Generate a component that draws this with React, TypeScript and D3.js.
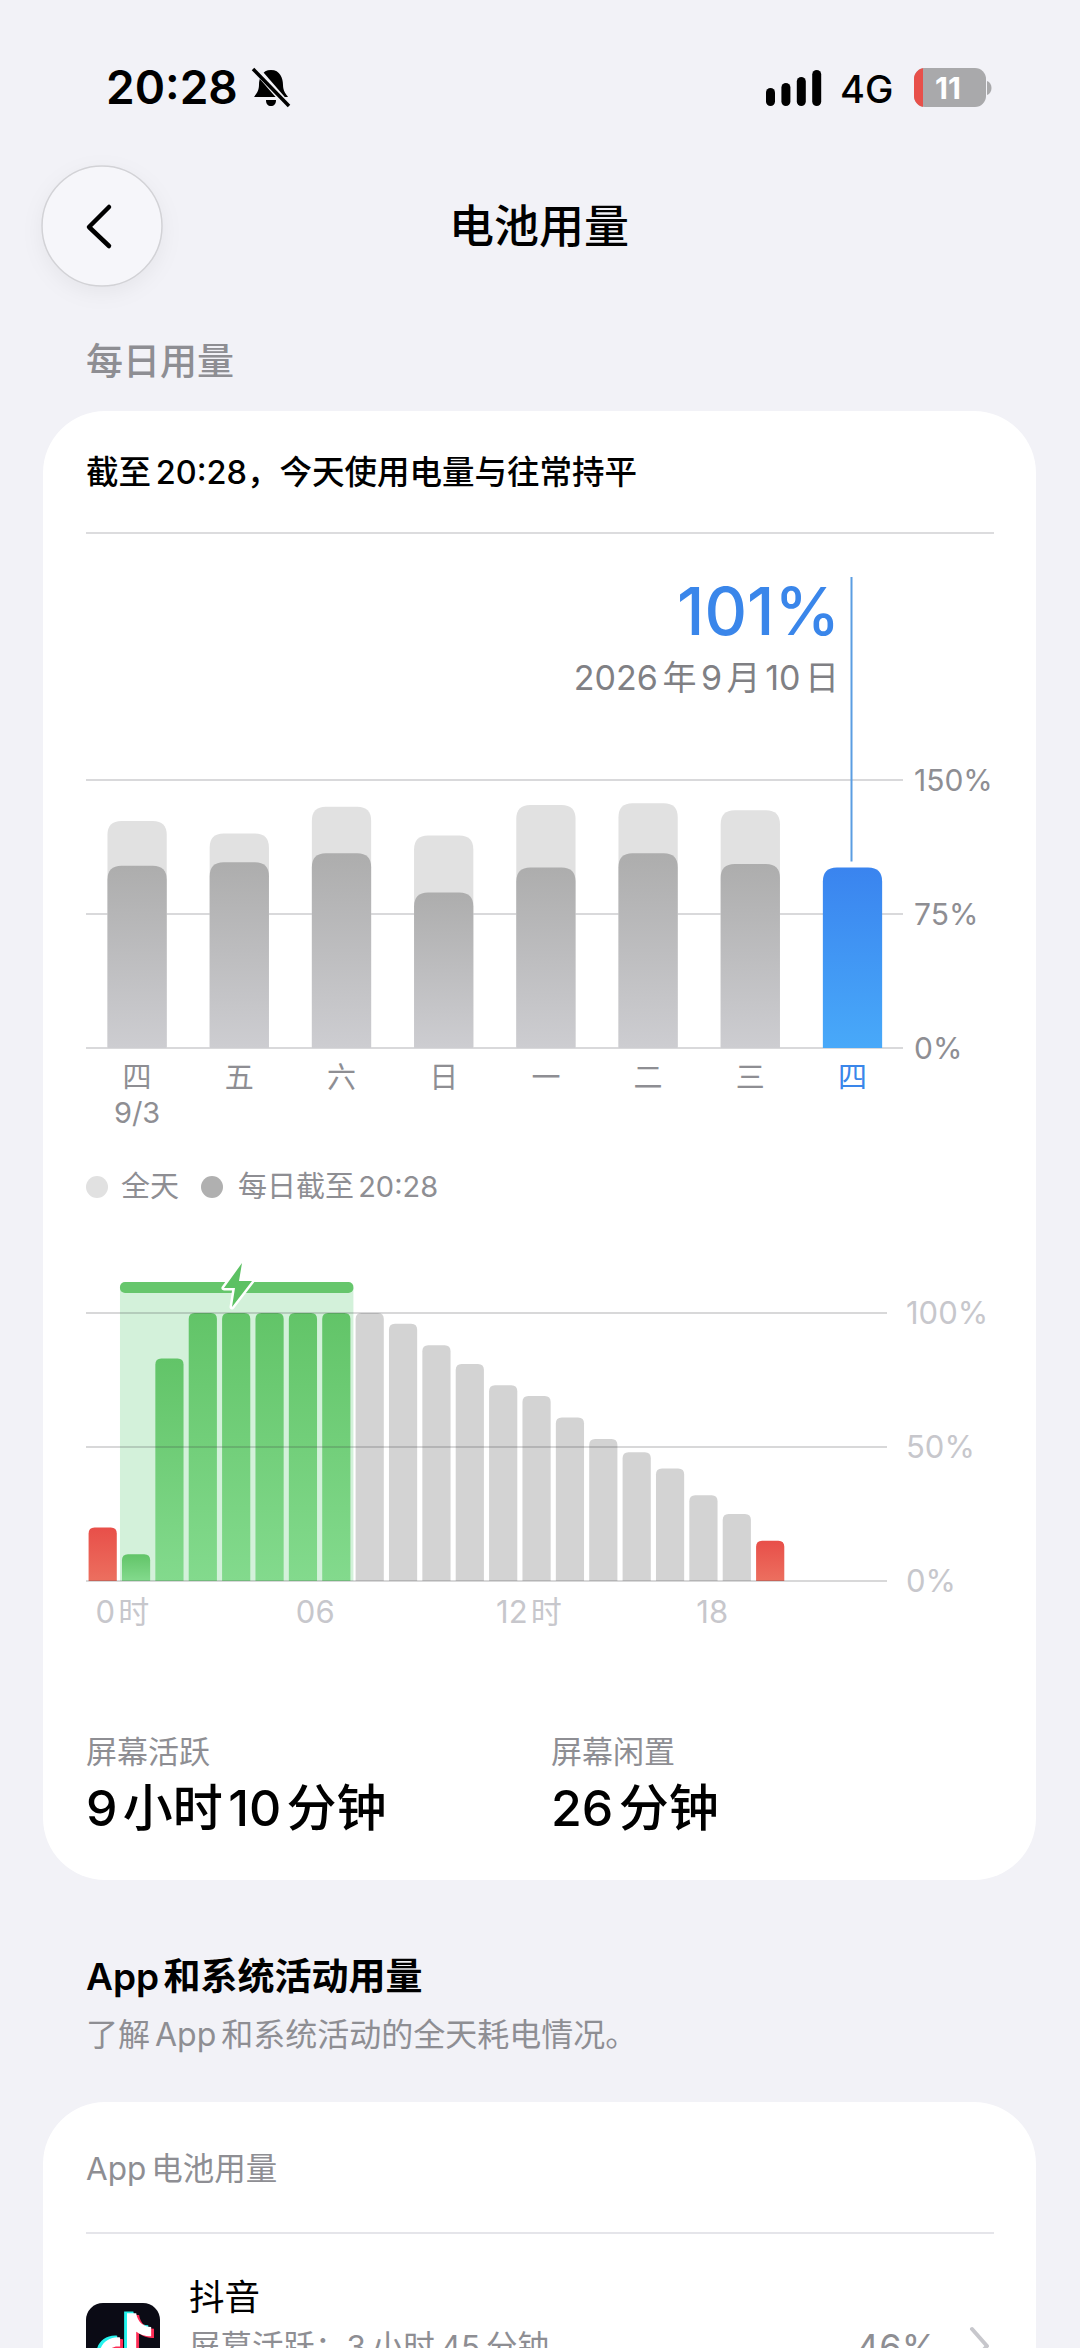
import React, { useEffect, useRef } from "react";
import * as d3 from "d3";

const weekdays = ["四", "五", "六", "日", "一", "二", "三", "四"];
const fullDay = [127, 120, 135, 119, 136, 137, 133, 0];
const untilNow = [102, 104, 109, 87, 101, 109, 103, 101];
const usageTicks = [0, 75, 150];

const hours = d3.range(24);
const levels = [20, 10, 83, 100, 100, 100, 100, 100, 100, 96, 88, 81, 73, 69, 61, 53, 48, 42, 32, 25, 15];
const chargingHours = [1, 2, 3, 4, 5, 6, 7];
const lowHours = [0, 20];
const levelTicks = [0, 50, 100];
const hourLabels = ["0 时", "06", "12 时", "18"];
const hourLabelAt = [0, 6, 12, 18];
const signalBars = [18, 23, 29, 36];

const FONT = "Inter, 'Noto Sans CJK SC', sans-serif";
const GREY = "#8e8e93";
const BLUE = "#3a86ea";

type Sel = d3.Selection<any, unknown, null, undefined>;

// path for a bar with only the top corners rounded
const topRounded = (x: number, y: number, w: number, h: number, r: number) => {
  const p = d3.path();
  p.moveTo(x, y + h);
  p.lineTo(x, y + r);
  p.quadraticCurveTo(x, y, x + r, y);
  p.lineTo(x + w - r, y);
  p.quadraticCurveTo(x + w, y, x + w, y + r);
  p.lineTo(x + w, y + h);
  p.closePath();
  return p.toString();
};

const label = (
  g: Sel,
  x: number,
  y: number,
  str: string,
  size: number,
  fill: string,
  weight = 400,
  anchor = "start",
  wordSpacing = 0,
) =>
  g
    .append("text")
    .attr("x", x)
    .attr("y", y)
    .attr("dy", "0.36em")
    .attr("text-anchor", anchor)
    .style("font-family", FONT)
    .style("font-size", `${size}px`)
    .style("font-weight", weight)
    .style("word-spacing", `${wordSpacing}px`)
    .attr("fill", fill)
    .text(str);

const addGradient = (defs: Sel, id: string, top: string, bottom: string) => {
  const grad = defs
    .append("linearGradient")
    .attr("id", id)
    .attr("x1", 0)
    .attr("x2", 0)
    .attr("y1", 0)
    .attr("y2", 1);
  grad.append("stop").attr("offset", "0%").attr("stop-color", top);
  grad.append("stop").attr("offset", "100%").attr("stop-color", bottom);
};

const drawStatusBar = (svg: Sel) => {
  label(svg, 106, 87, "20:28", 46, "#000", 600);

  // silent bell
  const bell = svg.append("g").attr("transform", "translate(252,68)");
  bell
    .append("path")
    .attr("d", "M19,2 C10,2 7,10 7,17 C7,23 4,26 2,29 L36,29 C34,26 31,23 31,17 C31,10 28,2 19,2 Z M14,32 C14,36 16,38 19,38 C22,38 24,36 24,32 Z")
    .attr("fill", "#000");
  bell.append("line").attr("x1", 3).attr("y1", 0).attr("x2", 36).attr("y2", 38).attr("stroke", "#f2f2f7").attr("stroke-width", 7);
  bell.append("line").attr("x1", 1).attr("y1", 1).attr("x2", 37).attr("y2", 38).attr("stroke", "#000").attr("stroke-width", 3.5);

  // signal
  signalBars.forEach((h, i) => {
    svg
      .append("rect")
      .attr("x", 766 + i * 15.4)
      .attr("y", 106 - h)
      .attr("width", 9)
      .attr("height", h)
      .attr("rx", 4.5)
      .attr("fill", "#000");
  });
  label(svg, 840, 89, "4G", 38, "#000", 500);

  // battery
  svg.append("rect").attr("x", 914).attr("y", 68).attr("width", 72).attr("height", 39).attr("rx", 11).attr("fill", "#a9a9ab");
  svg.append("path").attr("d", "M925,68 L923,68 L923,107 L925,107 A11,11 0 0 1 914,96 L914,79 A11,11 0 0 1 925,68 Z").attr("fill", "#e8504a");
  svg.append("path").attr("d", "M987,81 C993,83 993,93 987,95 Z").attr("fill", "#a9a9ab");
  label(svg, 948, 88, "11", 30, "#fff", 700, "middle");
};

const drawNav = (svg: Sel) => {
  svg
    .append("circle")
    .attr("cx", 102)
    .attr("cy", 226)
    .attr("r", 60)
    .attr("fill", "#f6f6fa")
    .attr("stroke", "#d2d2d6")
    .attr("stroke-width", 1.5)
    .style("filter", "drop-shadow(0 6px 10px rgba(0,0,0,0.05))");
  svg
    .append("path")
    .attr("d", "M109,207 L89,227 L109,246")
    .attr("fill", "none")
    .attr("stroke", "#000")
    .attr("stroke-width", 4.5)
    .attr("stroke-linecap", "round")
    .attr("stroke-linejoin", "round");
  label(svg, 539, 227, "电池用量", 45, "#000", 500, "middle");
  label(svg, 86, 362, "每日用量", 37, GREY, 500);
};

const drawUsageChart = (svg: Sel) => {
  const x = d3.scaleBand<number>().domain(d3.range(weekdays.length)).range([86, 903.6]).paddingInner(0.42).paddingOuter(0.21);
  const y = d3.scaleLinear().domain([0, 150]).range([1048, 780]);
  const base = y(0);

  usageTicks.forEach((t) => {
    svg.append("line").attr("x1", 86).attr("x2", 903).attr("y1", y(t)).attr("y2", y(t)).attr("stroke", "#d9d9db").attr("stroke-width", 2);
    label(svg, 914, y(t), `${t}%`, 30, GREY);
  });

  svg
    .selectAll(".full-day")
    .data(fullDay)
    .enter()
    .append("path")
    .attr("d", (d, i) => topRounded(x(i) ?? 0, y(d), x.bandwidth(), base - y(d), 14))
    .attr("fill", "#e1e1e1")
    .attr("display", (d) => (d > 0 ? null : "none"));

  svg
    .selectAll(".until-now")
    .data(untilNow)
    .enter()
    .append("path")
    .attr("d", (d, i) => topRounded(x(i) ?? 0, y(d), x.bandwidth(), base - y(d), 14))
    .attr("fill", (_, i) => (i === weekdays.length - 1 ? "url(#todayFill)" : "url(#dayFill)"));

  weekdays.forEach((d, i) => {
    const cx = (x(i) ?? 0) + x.bandwidth() / 2;
    label(svg, cx, 1078, d, 29, i === weekdays.length - 1 ? BLUE : GREY, 400, "middle");
  });
  label(svg, (x(0) ?? 0) + x.bandwidth() / 2, 1113, "9/3", 29, GREY, 400, "middle");

  // selected day marker
  const last = weekdays.length - 1;
  const mx = (x(last) ?? 0) + x.bandwidth() / 2;
  svg.append("line").attr("x1", mx - 1).attr("x2", mx - 1).attr("y1", 577).attr("y2", y(untilNow[last]) - 6).attr("stroke", "#5b9de2").attr("stroke-width", 2);
  label(svg, 840, 611, `${untilNow[last]}%`, 66, BLUE, 500, "end");
  label(svg, 839, 678, "2026 年 9 月 10 日", 34, "#808084", 400, "end", -5);

  // legend
  svg.append("circle").attr("cx", 97).attr("cy", 1187).attr("r", 11).attr("fill", "#e1e1e1");
  label(svg, 121, 1187, "全天", 29, GREY);
  svg.append("circle").attr("cx", 212).attr("cy", 1187).attr("r", 11).attr("fill", "#b0b0b0");
  label(svg, 238, 1187, "每日截至 20:28", 29, GREY, 400, "start", -4);
};

const drawLevelChart = (svg: Sel) => {
  const x = d3.scaleBand<number>().domain(hours).range([86, 887]).paddingInner(0.155).paddingOuter(0.0775);
  const y = d3.scaleLinear().domain([0, 100]).range([1581, 1313]);
  const base = y(0);

  const chargeX0 = (x(chargingHours[0]) ?? 0) - 2;
  const chargeX1 = (x(chargingHours[chargingHours.length - 1]) ?? 0) + x.bandwidth() + 3;

  svg.append("rect").attr("x", chargeX0).attr("y", 1288).attr("width", chargeX1 - chargeX0).attr("height", base - 1288).attr("fill", "#d3f1da");
  svg.append("rect").attr("x", chargeX0).attr("y", 1282).attr("width", chargeX1 - chargeX0).attr("height", 11).attr("rx", 5).attr("fill", "#66c66c");

  svg
    .selectAll(".level")
    .data(levels)
    .enter()
    .append("path")
    .attr("d", (d, i) => topRounded(x(i) ?? 0, y(d), x.bandwidth(), base - y(d), 6))
    .attr("fill", (_, i) => {
      if (lowHours.includes(i)) return "url(#lowFill)";
      if (chargingHours.includes(i)) return "url(#chargeFill)";
      return "#d3d3d3";
    });

  levelTicks.forEach((t) => {
    svg.append("line").attr("x1", 86).attr("x2", 887).attr("y1", y(t)).attr("y2", y(t)).attr("stroke", "rgba(60,60,67,0.2)").attr("stroke-width", 2);
    label(svg, 906, y(t), `${t}%`, 31, "#c7c7cc");
  });

  // charging bolt
  svg
    .append("path")
    .attr("transform", "translate(222,1263)")
    .attr("d", "M20,0 L2,25 L13,25 L10,44 L30,18 L17,18 Z")
    .attr("fill", "#5cc163")
    .attr("stroke", "#fff")
    .attr("stroke-width", 5)
    .attr("stroke-linejoin", "round")
    .style("paint-order", "stroke");

  hourLabels.forEach((d, i) => {
    label(svg, (x(hourLabelAt[i]) ?? 0) + 7, 1612, d, 31, "#c7c7cc", 400, "start", -5.5);
  });
};

const drawStats = (svg: Sel) => {
  label(svg, 86, 1752, "屏幕活跃", 31, GREY);
  label(svg, 551, 1752, "屏幕闲置", 31, GREY);
  label(svg, 86, 1808, "9 小时 10 分钟", 50, "#000", 500, "start", -8);
  label(svg, 551, 1808, "26 分钟", 50, "#000", 500, "start", -8);
};

const drawAppSection = (svg: Sel) => {
  label(svg, 86, 1977, "App 和系统活动用量", 37, "#000", 600, "start", -5);
  label(svg, 86, 2034, "了解 App 和系统活动的全天耗电情况。", 32, GREY, 400, "start", -4);

  label(svg, 86, 2169, "App 电池用量", 31.5, GREY, 400, "start", -4);
  svg.append("line").attr("x1", 86).attr("x2", 994).attr("y1", 2233).attr("y2", 2233).attr("stroke", "#e5e5ea").attr("stroke-width", 2);

  // app icon
  svg.append("rect").attr("x", 86).attr("y", 2303).attr("width", 74).attr("height", 74).attr("rx", 17).attr("fill", "#0b0b15");
  const note = "M0,-25 L8,-25 C9,-18 14,-13 21,-13 L21,-5 C15,-5 11,-7 8,-9 L8,10 C8,20 0,26 -9,26 C-18,26 -24,19 -24,11 C-24,2 -16,-5 -6,-4 L-6,4 C-12,3 -16,6 -16,11 C-16,15 -13,18 -9,18 C-4,18 0,15 0,10 Z";
  const icon = svg.append("g").attr("transform", "translate(127,2342) scale(1.15)");
  icon.append("path").attr("d", note).attr("transform", "translate(-2.5,-1.5)").attr("fill", "#25f4ee");
  icon.append("path").attr("d", note).attr("transform", "translate(2.5,1.5)").attr("fill", "#fe2c55");
  icon.append("path").attr("d", note).attr("fill", "#fff");

  label(svg, 189, 2297, "抖音", 35.5, "#000");
  label(svg, 189, 2347, "屏幕活跃：3 小时 45 分钟", 31.5, GREY, 400, "start", -3);
  label(svg, 937, 2347, "46%", 36, GREY, 400, "end");
  svg
    .append("path")
    .attr("d", "M972,2329 L987,2346 L972,2363")
    .attr("fill", "none")
    .attr("stroke", "#c7c7cc")
    .attr("stroke-width", 4)
    .attr("stroke-linecap", "round")
    .attr("stroke-linejoin", "round");
};

const BatteryScreen: React.FC = () => {
  const ref = useRef<SVGSVGElement | null>(null);

  useEffect(() => {
    d3.select(ref.current).selectAll("*").remove();
    const svg = d3.select(ref.current) as unknown as Sel;

    const defs = svg.append("defs");
    addGradient(defs, "dayFill", "#adadad", "#cdcdd1");
    addGradient(defs, "todayFill", "#3a84ef", "#48a9f9");
    addGradient(defs, "chargeFill", "#62c468", "#83da8d");
    addGradient(defs, "lowFill", "#e84f49", "#ec6f5f");

    // cards
    svg.append("rect").attr("x", 43).attr("y", 411).attr("width", 993).attr("height", 1469).attr("rx", 62).attr("fill", "#fff");
    svg.append("rect").attr("x", 43).attr("y", 2102).attr("width", 993).attr("height", 400).attr("rx", 62).attr("fill", "#fff");

    drawStatusBar(svg);
    drawNav(svg);

    label(svg, 86, 472, "截至 20:28，今天使用电量与往常持平", 32.5, "#000", 500, "start", -4);
    svg.append("line").attr("x1", 86).attr("x2", 994).attr("y1", 533).attr("y2", 533).attr("stroke", "#dcdcde").attr("stroke-width", 2);

    drawUsageChart(svg);
    drawLevelChart(svg);
    drawStats(svg);
    drawAppSection(svg);
  }, []);

  return (
    <svg
      ref={ref}
      width={1080}
      height={2348}
      style={{ position: "absolute", left: 0, top: 0, background: "#f2f2f7" }}
    />
  );
};

export default function App() {
  return <BatteryScreen />;
}
